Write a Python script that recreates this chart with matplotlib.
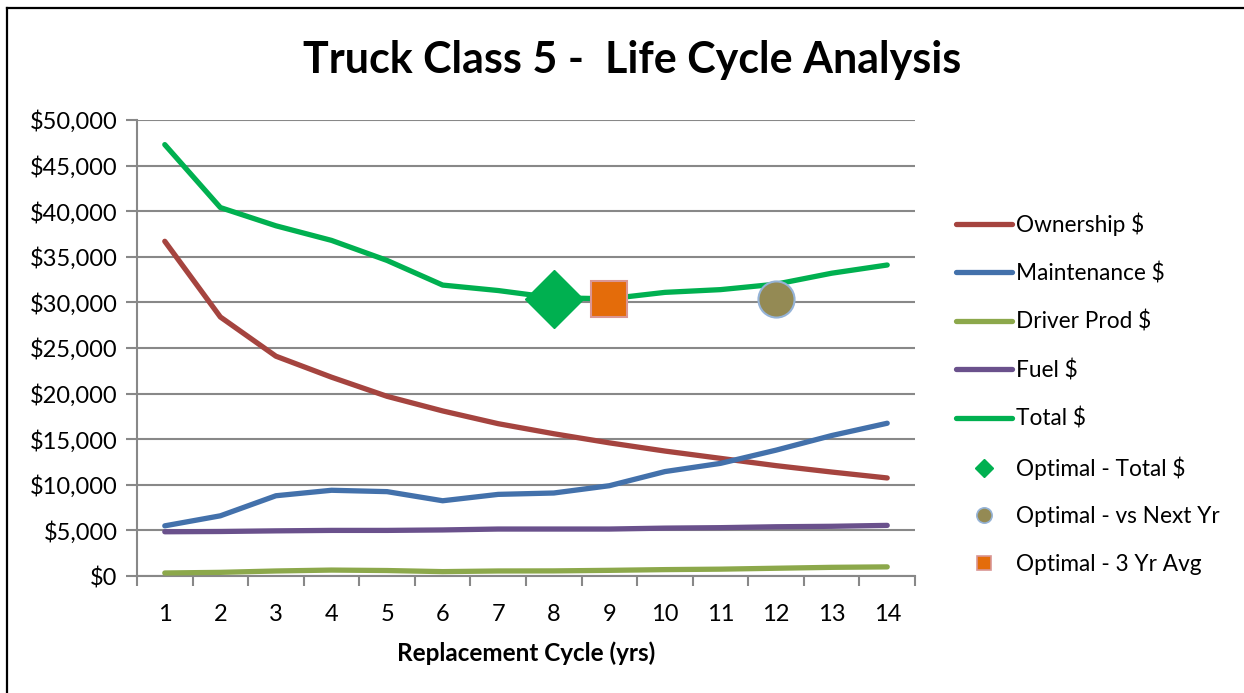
import matplotlib
matplotlib.use("Agg")
import matplotlib.pyplot as plt
from matplotlib.lines import Line2D
from matplotlib.ticker import FuncFormatter, MultipleLocator

plt.rcParams['font.family'] = ['Lato', 'DejaVu Sans']

# data
years = list(range(1, 15))
ownership = [36700, 28400, 24100, 21800, 19700, 18100, 16700, 15600, 14600, 13700, 12900, 12100, 11400, 10750]
maintenance = [5500, 6600, 8800, 9400, 9250, 8250, 8950, 9100, 9900, 11450, 12350, 13800, 15400, 16750]
driver_prod = [330, 400, 550, 650, 600, 480, 550, 560, 620, 700, 750, 850, 950, 1000]
fuel = [4850, 4880, 4950, 5000, 5000, 5050, 5150, 5150, 5150, 5250, 5300, 5400, 5450, 5550]
total = [47300, 40400, 38400, 36800, 34600, 31900, 31300, 30500, 30400, 31100, 31400, 32000, 33200, 34100]

opt_total = (8, 30400)
opt_next_yr = (12, 30400)
opt_3yr = (9, 30400)

series = [
    ("Ownership $", ownership, "#A5443F"),
    ("Maintenance $", maintenance, "#4371AB"),
    ("Driver Prod $", driver_prod, "#8CA84B"),
    ("Fuel $", fuel, "#6A518C"),
    ("Total $", total, "#00B050"),
]

fig = plt.figure(figsize=(12.44, 6.93), dpi=100)
ax = fig.add_axes([137 / 1244, 1 - 576 / 693, (915 - 137) / 1244, (576 - 120) / 693])

for name, vals, col in series:
    ax.plot(years, vals, color=col, lw=3.8, solid_capstyle='round', zorder=3)

ax.plot(*opt_total, marker='D', ms=29.5, color='#00B050', mec='#00B050', ls='none', zorder=4)
ax.plot(*opt_3yr, marker='s', ms=26, color='#E46C0A', mec='#D99694', mew=1.5, ls='none', zorder=4)
ax.plot(*opt_next_yr, marker='o', ms=26, color='#948A54', mec='#95B3D7', mew=1.5, ls='none', zorder=4)

ax.set_xlim(0.5, 14.5)
ax.set_ylim(0, 50000)
ax.yaxis.set_major_locator(MultipleLocator(5000))
ax.yaxis.set_major_formatter(FuncFormatter(lambda v, p: "${:,.0f}".format(v)))
ax.set_xticks(years)
ax.set_xticks([y + 0.5 for y in range(0, 15)], minor=True)
ax.tick_params(axis='x', which='major', length=0, pad=20, labelsize=17)
ax.tick_params(axis='x', which='minor', length=7, width=1.5, color='#888888', direction='out')
ax.tick_params(axis='y', length=8, width=1.5, color='#888888', pad=6, labelsize=17)

ax.grid(axis='y', color='#888888', lw=1.5)
ax.set_axisbelow(True)
for s in ['top', 'right']:
    ax.spines[s].set_visible(False)
for s in ['left', 'bottom']:
    ax.spines[s].set_color('#888888')
    ax.spines[s].set_linewidth(1.5)

ax.set_xlabel("Replacement Cycle (yrs)", fontsize=17.5, fontweight='bold', labelpad=12)

fig.text(632 / 1244, 1 - 60 / 693, "Truck Class 5 -  Life Cycle Analysis",
         ha='center', va='center', fontsize=31, fontweight='bold')

handles = [Line2D([], [], color=c, lw=3.8, solid_capstyle='round') for _, _, c in series]
labels = [n for n, _, _ in series]
handles += [
    Line2D([], [], marker='D', ms=9, color='#00B050', ls='none'),
    Line2D([], [], marker='o', ms=11, color='#948A54', mec='#95B3D7', mew=1.2, ls='none'),
    Line2D([], [], marker='s', ms=10, color='#E46C0A', mec='#D99694', mew=1.2, ls='none'),
]
labels += ["Optimal - Total $", "Optimal - vs Next Yr", "Optimal - 3 Yr Avg"]
fig.legend(handles, labels, loc='upper left', bbox_to_anchor=(945 / 1244, 1 - 201 / 693),
           frameon=False, fontsize=16.3, handlelength=2.45, handletextpad=0.2,
           labelspacing=1.17, borderpad=0)

# chart frame (left and top edges visible in the reference)
fig.add_artist(Line2D([7.5 / 1244, 7.5 / 1244], [0, 1 - 7.5 / 693], color='black', lw=1.6,
                      transform=fig.transFigure))
fig.add_artist(Line2D([7 / 1244, 1], [1 - 7.5 / 693, 1 - 7.5 / 693], color='black', lw=1.6,
                      transform=fig.transFigure))

fig.savefig("out.png", dpi=100)
